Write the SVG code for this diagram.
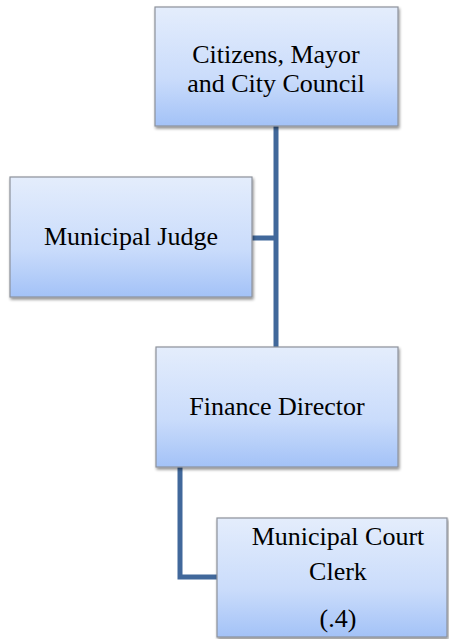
<svg xmlns="http://www.w3.org/2000/svg" width="449" height="639" viewBox="0 0 449 639">
<defs>
<linearGradient id="g" x1="0" y1="0" x2="0" y2="1">
<stop offset="0" stop-color="#e4edfc"/>
<stop offset="0.6" stop-color="#cadcfb"/>
<stop offset="1" stop-color="#a3c2f7"/>
</linearGradient>
<filter id="sh" x="-10%" y="-10%" width="130%" height="130%">
<feGaussianBlur in="SourceAlpha" stdDeviation="1.5"/>
<feOffset dx="1" dy="2" result="b"/>
<feComponentTransfer><feFuncA type="linear" slope="0.45"/></feComponentTransfer>
<feMerge><feMergeNode/><feMergeNode in="SourceGraphic"/></feMerge>
</filter>
</defs>
<style>
.box{fill:url(#g);stroke:#8d929b;stroke-width:1.2;filter:url(#sh)}
.c{fill:none;stroke:#41689b;stroke-width:5}
text{font-family:"Liberation Serif","DejaVu Serif",serif;font-size:26px;fill:#000;text-anchor:middle}
</style>
<rect width="449" height="639" fill="#fff"/>
<g id="connectors">
<path class="c" d="M276 126 V347 M252 238 H276"/>
<path class="c" d="M180 467 V577 H217"/>
</g>
<g id="n1"><rect class="box" x="155" y="7" width="243" height="119"/>
<text x="276" y="63">Citizens, Mayor</text><text x="276" y="92">and City Council</text></g>
<g id="n2"><rect class="box" x="10" y="177" width="242" height="120"/>
<text x="131" y="245">Municipal Judge</text></g>
<g id="n3"><rect class="box" x="156" y="347" width="242" height="120"/>
<text x="277" y="415">Finance Director</text></g>
<g id="n4"><rect class="box" x="217" y="518" width="230" height="119"/>
<text x="338" y="545">Municipal Court</text><text x="338" y="580">Clerk</text><text x="338" y="627">(.4)</text></g>
</svg>
